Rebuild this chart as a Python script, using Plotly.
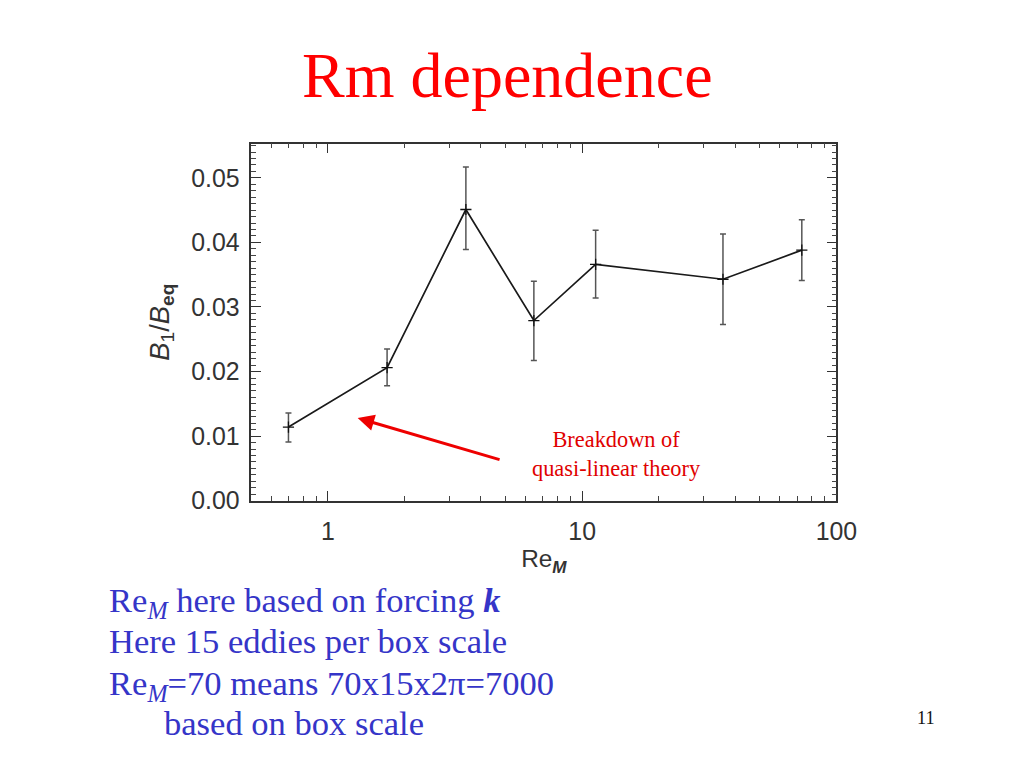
import math
import plotly.graph_objects as go

# ---- data ----
re_m = [0.70, 1.71, 3.49, 6.46, 11.3, 35.8, 73.1]
b_ratio = [0.0114, 0.0206, 0.0451, 0.0279, 0.0366, 0.0343, 0.0388]
err_upper = [0.0136, 0.0235, 0.0517, 0.0340, 0.0419, 0.0413, 0.0435]
err_lower = [0.0091, 0.0178, 0.0389, 0.0217, 0.0314, 0.0273, 0.0341]

x_tick_vals = [1, 10, 100]
x_tick_text = ["1", "10", "100"]
x_minor_vals = [0.5, 0.6, 0.7, 0.8, 0.9, 2, 3, 4, 5, 6, 7, 8, 9,
                20, 30, 40, 50, 60, 70, 80, 90]

arrow_tip = (1.31, 0.0128)
arrow_tail = (4.80, 0.0063)

title_text = "Rm dependence"
note_text = "Breakdown of<br>quasi-linear theory"
body_lines = [
    "Re<sub><i>M</i></sub> here based on forcing <b><i>k</i></b>",
    "Here 15 eddies per box scale",
    "Re<sub><i>M</i></sub>=70 means 70x15x2\u03c0=7000",
    "based on box scale",
]
page_number = "11"

err_plus = [u - y for u, y in zip(err_upper, b_ratio)]
err_minus = [y - l for y, l in zip(b_ratio, err_lower)]

# figure size and the measured page-to-screen mapping (screen = S*fig + offset)
W, H = 1008, 752
S, BX, BY = 0.984, 5.5, 7.0
def px(x):
    return ((x - BX) / S) / W
def py(y):
    return 1 - ((y - BY) / S) / H
def fs(size):
    return size / S

fig = go.Figure()
fig.add_trace(go.Scatter(
    x=re_m, y=b_ratio, mode="lines+markers",
    line=dict(color="#1a1a1a", width=1.7),
    marker=dict(symbol="cross-thin", size=8, line=dict(width=1.3, color="#111")),
    error_y=dict(type="data", symmetric=False, array=err_plus, arrayminus=err_minus,
                 color="#555555", thickness=1.5, width=3),
    showlegend=False,
))

axis_font = dict(family="Liberation Sans", size=fs(24.5), color="#333333")

fig.update_layout(
    width=W, height=H, autosize=False,
    margin=dict(l=0, r=0, t=0, b=0),
    paper_bgcolor="white", plot_bgcolor="white",
    xaxis=dict(
        type="log", range=[math.log10(0.5), 2.0],
        domain=[px(250), px(838)],
        showline=True, linecolor="#333333", linewidth=1.5, mirror="allticks",
        showgrid=False, zeroline=False,
        ticks="inside", ticklen=10, tickwidth=1.2, tickcolor="#333333",
        tickvals=x_tick_vals, ticktext=x_tick_text,
        tickfont=axis_font, ticklabelstandoff=8,
        minor=dict(ticks="inside", ticklen=5, tickwidth=1, tickcolor="#444444",
                   tickvals=x_minor_vals, showgrid=False),
        title=dict(text="Re<sub><i><b>M</b></i></sub>",
                   font=dict(family="Liberation Sans", size=fs(24), color="#333333"),
                   standoff=6),
    ),
    yaxis=dict(
        range=[0, 0.0553],
        domain=[py(501), py(143)],
        showline=True, linecolor="#333333", linewidth=1.5, mirror="allticks",
        showgrid=False, zeroline=False,
        ticks="inside", ticklen=10, tickwidth=1.2, tickcolor="#333333",
        dtick=0.01, tick0=0, tickformat=".2f",
        tickfont=axis_font, ticklabelstandoff=5,
        minor=dict(ticks="inside", ticklen=5, tickwidth=1, tickcolor="#444444",
                   dtick=0.001, showgrid=False),
        title=dict(text="<i>B</i><sub>1</sub>/<i>B</i><sub><b>eq</b></sub>",
                   font=dict(family="Liberation Sans", size=fs(27), color="#333333"),
                   standoff=14),
    ),
)

serif = "Liberation Serif"
annotations = [
    dict(text=title_text, x=px(507), y=py(75), xref="paper", yref="paper",
         showarrow=False, font=dict(family=serif, size=fs(63), color="#ff0000"),
         xanchor="center", yanchor="middle"),
    dict(text=note_text, x=px(617), y=py(454), xref="paper", yref="paper",
         showarrow=False, font=dict(family=serif, size=fs(22), color="#e00000"),
         xanchor="center", yanchor="middle", align="center"),
    dict(text="", x=math.log10(arrow_tip[0]), y=arrow_tip[1], xref="x", yref="y",
         ax=math.log10(arrow_tail[0]), ay=arrow_tail[1], axref="x", ayref="y",
         showarrow=True, arrowhead=2, arrowsize=1.1, arrowwidth=3, arrowcolor="#ee0000"),
    dict(text=page_number, x=px(928), y=py(719), xref="paper", yref="paper",
         showarrow=False, font=dict(family=serif, size=fs(18), color="#111111"),
         xanchor="center", yanchor="middle"),
]
line_pos = [(105, 603), (105, 642), (105, 686), (160, 724)]
for txt, (lx, ly) in zip(body_lines, line_pos):
    annotations.append(dict(text=txt, x=px(lx), y=py(ly), xref="paper", yref="paper",
                            showarrow=False, xanchor="left", yanchor="middle",
                            font=dict(family=serif, size=fs(34), color="#3535c8")))
fig.update_layout(annotations=annotations)

fig.write_html("out.html")
